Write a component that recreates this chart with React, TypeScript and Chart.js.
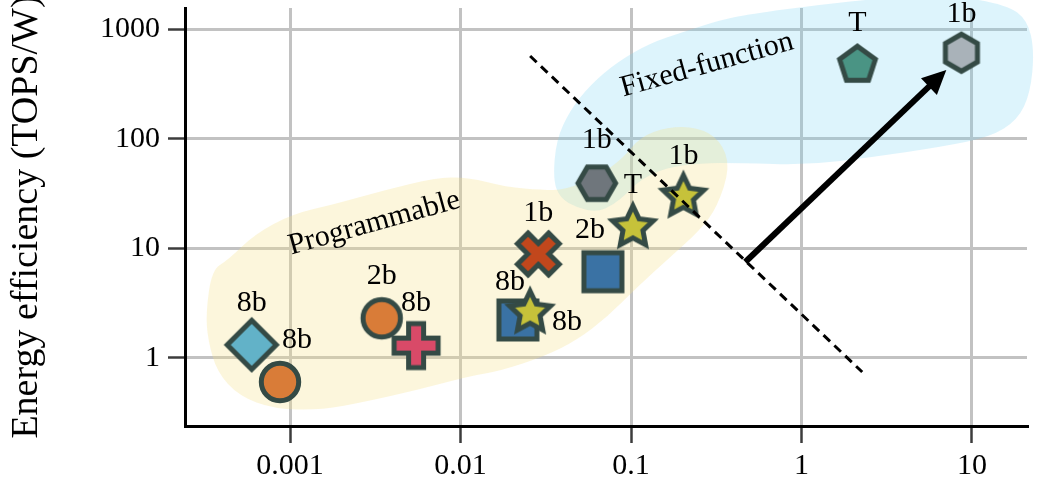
import React, { useEffect, useRef } from 'react';
import { Chart, registerables } from 'chart.js';

Chart.register(...registerables);

// ---------- data ----------
const xTickValues = [0.001, 0.01, 0.1, 1, 10];
const xTickLabels = ['0.001', '0.01', '0.1', '1', '10'];
const yTickValues = [1, 10, 100, 1000];
const yTickLabels = ['1', '10', '100', '1000'];

const throughput = [0.000596, 0.000873, 0.00345, 0.00549, 0.0217, 0.0256, 0.0286, 0.0684, 0.1026, 0.063, 0.203, 2.13, 8.67];
const efficiency = [1.31, 0.6, 2.29, 1.29, 2.21, 2.58, 8.85, 6.1, 15.5, 39.2, 29.5, 471, 610];
const precisionLabels = ['8b', '8b', '2b', '8b', '8b', '8b', '1b', '2b', 'T', '1b', '1b', 'T', '1b'];
const markerShapes = ['diamond', 'circle', 'circle', 'plus', 'square', 'star', 'cross', 'square', 'star', 'hexFlat', 'star', 'pentagon', 'hexPointy'];
const markerColors = ['#62b2c8', '#d97c38', '#d97c38', '#d94a68', '#3a72a4', '#c6c23a', '#c2471c', '#3a72a4', '#c6c23a', '#6f767c', '#c6c23a', '#4a9484', '#a9b2b9'];
const labelOffsets = [[0, -42], [17, -42], [0, -42], [0, -42], [-8, -38], [37, 10], [0, -41], [-13, -42], [0, -42], [0, -43], [0, -41], [0, -42], [0, -39]];

const boundaryX = [0.0256, 2.27];
const boundaryY = [569, 0.74];
const arrowX = [0.468, 6.6];
const arrowY = [7.48, 383];

const programmableX = [3.21e-4, 3.48e-4, 4.32e-4, 6.24e-4, 1.03e-3, 1.84e-3, 3.61e-3, 7.1e-3, 0.01094, 0.01852, 0.0301, 0.0411, 0.0659, 0.0899, 0.1132, 0.163, 0.2446, 0.334, 0.382, 0.3206, 0.2547, 0.17, 0.1088, 0.0725, 0.0483, 0.0314, 0.01708, 0.01138, 5.56e-3, 2.72e-3, 1.52e-3, 8.05e-4, 5.02e-4, 3.73e-4, 3.3e-4];
const programmableY = [2.56, 6.32, 7.8, 13.5, 20.5, 25.3, 34.0, 43.8, 44.7, 36.2, 34.0, 34.0, 46.6, 66.6, 103.7, 128, 128, 97.3, 55.2, 23.8, 14.7, 8.31, 4.42, 2.35, 1.45, 1.036, 0.756, 0.681, 0.507, 0.394, 0.333, 0.34, 0.447, 0.74, 1.45];
const fixedX = [0.0349, 0.0364, 0.044, 0.0576, 0.083, 0.1297, 0.2025, 0.334, 0.501, 1.238, 3.02, 7.46, 16.1, 21.1, 23.2, 22.0, 18.5, 12.8, 6.53, 2.64, 1.08, 0.4375, 0.2547, 0.1585, 0.1132, 0.095, 0.0786, 0.0634, 0.0483, 0.0384];
const fixedY = [42.0, 97.3, 183, 309, 502, 748, 943, 1213, 1376, 1663, 1928, 2052, 1663, 1213, 646, 261, 148, 103.6, 84.0, 68.1, 57.5, 60.0, 60.0, 54.0, 42.0, 31.9, 24.8, 21.4, 23.3, 28.7];

const regionNames = ['Programmable', 'Fixed-function'];
const regionX = [0.00312, 0.279];
const regionY = [16.9, 471];

// ---------- styles ----------
const FONT = "'Liberation Serif', 'Times New Roman', serif";
const STROKE = '#344a45';

function makeMarker(shape: string, fill: string): HTMLCanvasElement {
  const S = 66;
  const c = document.createElement('canvas');
  c.width = S;
  c.height = S;
  const g = c.getContext('2d') as CanvasRenderingContext2D;
  g.translate(S / 2, S / 2);
  g.lineWidth = 5;
  g.strokeStyle = STROKE;
  g.fillStyle = fill;
  g.lineJoin = 'miter';
  g.beginPath();
  const poly = (pts: number[][]) => {
    pts.forEach((p, i) => (i === 0 ? g.moveTo(p[0], p[1]) : g.lineTo(p[0], p[1])));
    g.closePath();
  };
  const regular = (n: number, r: number, start: number) => {
    const pts: number[][] = [];
    for (let i = 0; i < n; i++) {
      const a = start + (i * 2 * Math.PI) / n;
      pts.push([r * Math.cos(a), r * Math.sin(a)]);
    }
    poly(pts);
  };
  const plusPts = (rot: number) => {
    const L = 22, w = 7.5;
    const base = [[-w, -L], [w, -L], [w, -w], [L, -w], [L, w], [w, w], [w, L], [-w, L], [-w, w], [-L, w], [-L, -w], [-w, -w]];
    const cs = Math.cos(rot), sn = Math.sin(rot);
    poly(base.map(([x, y]) => [x * cs - y * sn, x * sn + y * cs]));
  };
  switch (shape) {
    case 'circle':
      g.arc(0, 0, 18.7, 0, Math.PI * 2);
      break;
    case 'diamond':
      poly([[0, -24.5], [24.5, 0], [0, 24.5], [-24.5, 0]]);
      break;
    case 'square':
      poly([[-19, -19], [19, -19], [19, 19], [-19, 19]]);
      break;
    case 'plus':
      plusPts(0);
      break;
    case 'cross':
      plusPts(Math.PI / 4);
      break;
    case 'star': {
      const pts: number[][] = [];
      for (let i = 0; i < 10; i++) {
        const r = i % 2 === 0 ? 21.5 : 10.5;
        const a = -Math.PI / 2 + (i * Math.PI) / 5;
        pts.push([r * Math.cos(a), r * Math.sin(a)]);
      }
      poly(pts);
      break;
    }
    case 'hexFlat':
      regular(6, 18.8, 0);
      break;
    case 'hexPointy':
      regular(6, 18.5, -Math.PI / 2);
      break;
    case 'pentagon':
      regular(5, 18.8, -Math.PI / 2);
      break;
  }
  g.fill();
  g.stroke();
  return c;
}

function blobPath(ctx: CanvasRenderingContext2D, pts: number[][]) {
  const n = pts.length;
  const mid = (a: number[], b: number[]) => [(a[0] + b[0]) / 2, (a[1] + b[1]) / 2];
  const m0 = mid(pts[n - 1], pts[0]);
  ctx.beginPath();
  ctx.moveTo(m0[0], m0[1]);
  for (let i = 0; i < n; i++) {
    const p = pts[i];
    const m = mid(p, pts[(i + 1) % n]);
    ctx.quadraticCurveTo(p[0], p[1], m[0], m[1]);
  }
  ctx.closePath();
}

const overlayPlugin = {
  id: 'overlay',
  beforeDatasetsDraw(chart: any) {
    const { ctx, scales } = chart;
    const xs = scales.x, ys = scales.y;
    ctx.save();
    const fixedPts = fixedX.map((v, i) => [xs.getPixelForValue(v), ys.getPixelForValue(fixedY[i])]);
    blobPath(ctx, fixedPts);
    ctx.fillStyle = 'rgba(120, 210, 245, 0.25)';
    ctx.fill();
    const progPts = programmableX.map((v, i) => [xs.getPixelForValue(v), ys.getPixelForValue(programmableY[i])]);
    blobPath(ctx, progPts);
    ctx.fillStyle = 'rgba(245, 225, 140, 0.3)';
    ctx.fill();
    // region names
    ctx.fillStyle = '#000';
    ctx.font = `30px ${FONT}`;
    ctx.textAlign = 'center';
    ctx.textBaseline = 'middle';
    regionNames.forEach((name, i) => {
      ctx.save();
      ctx.translate(xs.getPixelForValue(regionX[i]), ys.getPixelForValue(regionY[i]));
      ctx.rotate((-15.5 * Math.PI) / 180);
      ctx.fillText(name, 0, 0);
      ctx.restore();
    });
    ctx.restore();
  },
  afterDatasetsDraw(chart: any) {
    const { ctx, scales } = chart;
    const xs = scales.x, ys = scales.y;
    ctx.save();
    // arrow head
    const x0 = xs.getPixelForValue(arrowX[0]), y0 = ys.getPixelForValue(arrowY[0]);
    const x1 = xs.getPixelForValue(arrowX[1]), y1 = ys.getPixelForValue(arrowY[1]);
    const len = Math.hypot(x1 - x0, y1 - y0);
    const ux = (x1 - x0) / len, uy = (y1 - y0) / len;
    const tx = x1 + ux * 7, ty = y1 + uy * 7;
    const bx = tx - ux * 24, by = ty - uy * 24;
    ctx.beginPath();
    ctx.moveTo(tx, ty);
    ctx.lineTo(bx - uy * 11.5, by + ux * 11.5);
    ctx.lineTo(bx + uy * 11.5, by - ux * 11.5);
    ctx.closePath();
    ctx.fillStyle = '#000';
    ctx.fill();
    // point labels
    ctx.font = `30px ${FONT}`;
    ctx.textAlign = 'center';
    ctx.textBaseline = 'middle';
    precisionLabels.forEach((t, i) => {
      const px = xs.getPixelForValue(throughput[i]) + labelOffsets[i][0];
      const py = ys.getPixelForValue(efficiency[i]) + labelOffsets[i][1];
      ctx.fillText(t, px, py);
    });
    ctx.restore();
  },
};

export default function App() {
  const ref = useRef<HTMLCanvasElement | null>(null);
  useEffect(() => {
    const canvas = ref.current;
    if (!canvas) return;
    const markers = markerShapes.map((s, i) => makeMarker(s, markerColors[i]));
    const zeroPad = (s: any) => {
      s.paddingTop = 0;
      s.paddingBottom = 0;
      s.paddingLeft = 0;
      s.paddingRight = 0;
    };
    const chart = new Chart(canvas, {
      type: 'scatter',
      data: {
        datasets: [
          {
            type: 'line',
            data: boundaryX.map((x, i) => ({ x, y: boundaryY[i] })),
            borderColor: '#000',
            borderWidth: 3,
            borderDash: [9, 6],
            pointRadius: 0,
            order: 0,
          } as any,
          {
            type: 'line',
            data: arrowX.map((x, i) => ({ x, y: arrowY[i] })),
            borderColor: '#000',
            borderWidth: 6,
            borderCapStyle: 'butt',
            pointRadius: 0,
            order: 0,
          } as any,
          {
            data: throughput.map((x, i) => ({ x, y: efficiency[i] })),
            pointStyle: markers as any,
            pointRadius: 20,
            order: 1,
          },
        ],
      },
      options: {
        animation: false,
        responsive: false,
        devicePixelRatio: 1,
        events: [],
        layout: { autoPadding: false, padding: { top: 8, right: 11, left: 0, bottom: 0 } },
        plugins: { legend: { display: false }, tooltip: { enabled: false } },
        scales: {
          x: {
            type: 'logarithmic',
            min: 2.421e-4,
            max: 21.02,
            afterBuildTicks: (s: any) => {
              s.ticks = xTickValues.map((v) => ({ value: v }));
            },
            afterFit: (s: any) => {
              s.height = 61;
              zeroPad(s);
            },
            ticks: {
              autoSkip: false,
              maxRotation: 0,
              padding: 5,
              color: '#000',
              font: { family: FONT, size: 30 },
              callback: (v: any) => {
                const i = xTickValues.findIndex((t) => Math.abs(t - v) / t < 1e-6);
                return i >= 0 ? xTickLabels[i] : '';
              },
            },
            grid: { color: '#c2c2c2', lineWidth: 3, tickColor: '#3c3c3c', tickLength: 17, tickWidth: 2.5 },
            border: { display: true, color: '#000', width: 3 },
          },
          y: {
            type: 'logarithmic',
            min: 0.2377,
            max: 1562,
            afterBuildTicks: (s: any) => {
              s.ticks = yTickValues.map((v) => ({ value: v }));
            },
            afterFit: (s: any) => {
              s.width = 185;
              zeroPad(s);
            },
            ticks: {
              autoSkip: false,
              padding: 8,
              color: '#000',
              font: { family: FONT, size: 30 },
              callback: (v: any) => {
                const i = yTickValues.findIndex((t) => Math.abs(t - v) / t < 1e-6);
                return i >= 0 ? yTickLabels[i] : '';
              },
            },
            grid: { color: '#c2c2c2', lineWidth: 3, tickColor: '#3c3c3c', tickLength: 17, tickWidth: 2.5 },
            border: { display: true, color: '#000', width: 3 },
            title: {
              display: true,
              text: 'Energy efficiency (TOPS/W)',
              color: '#000',
              font: { family: FONT, size: 38 },
              padding: { top: 4, bottom: 0 },
            },
          },
        },
      },
      plugins: [overlayPlugin],
    });
    return () => chart.destroy();
  }, []);
  return (
    <div style={{ position: 'absolute', left: 0, top: 0, width: 1038, height: 487, background: '#fff' }}>
      <canvas ref={ref} width={1038} height={487} style={{ display: 'block', width: 1038, height: 487 }} />
    </div>
  );
}
